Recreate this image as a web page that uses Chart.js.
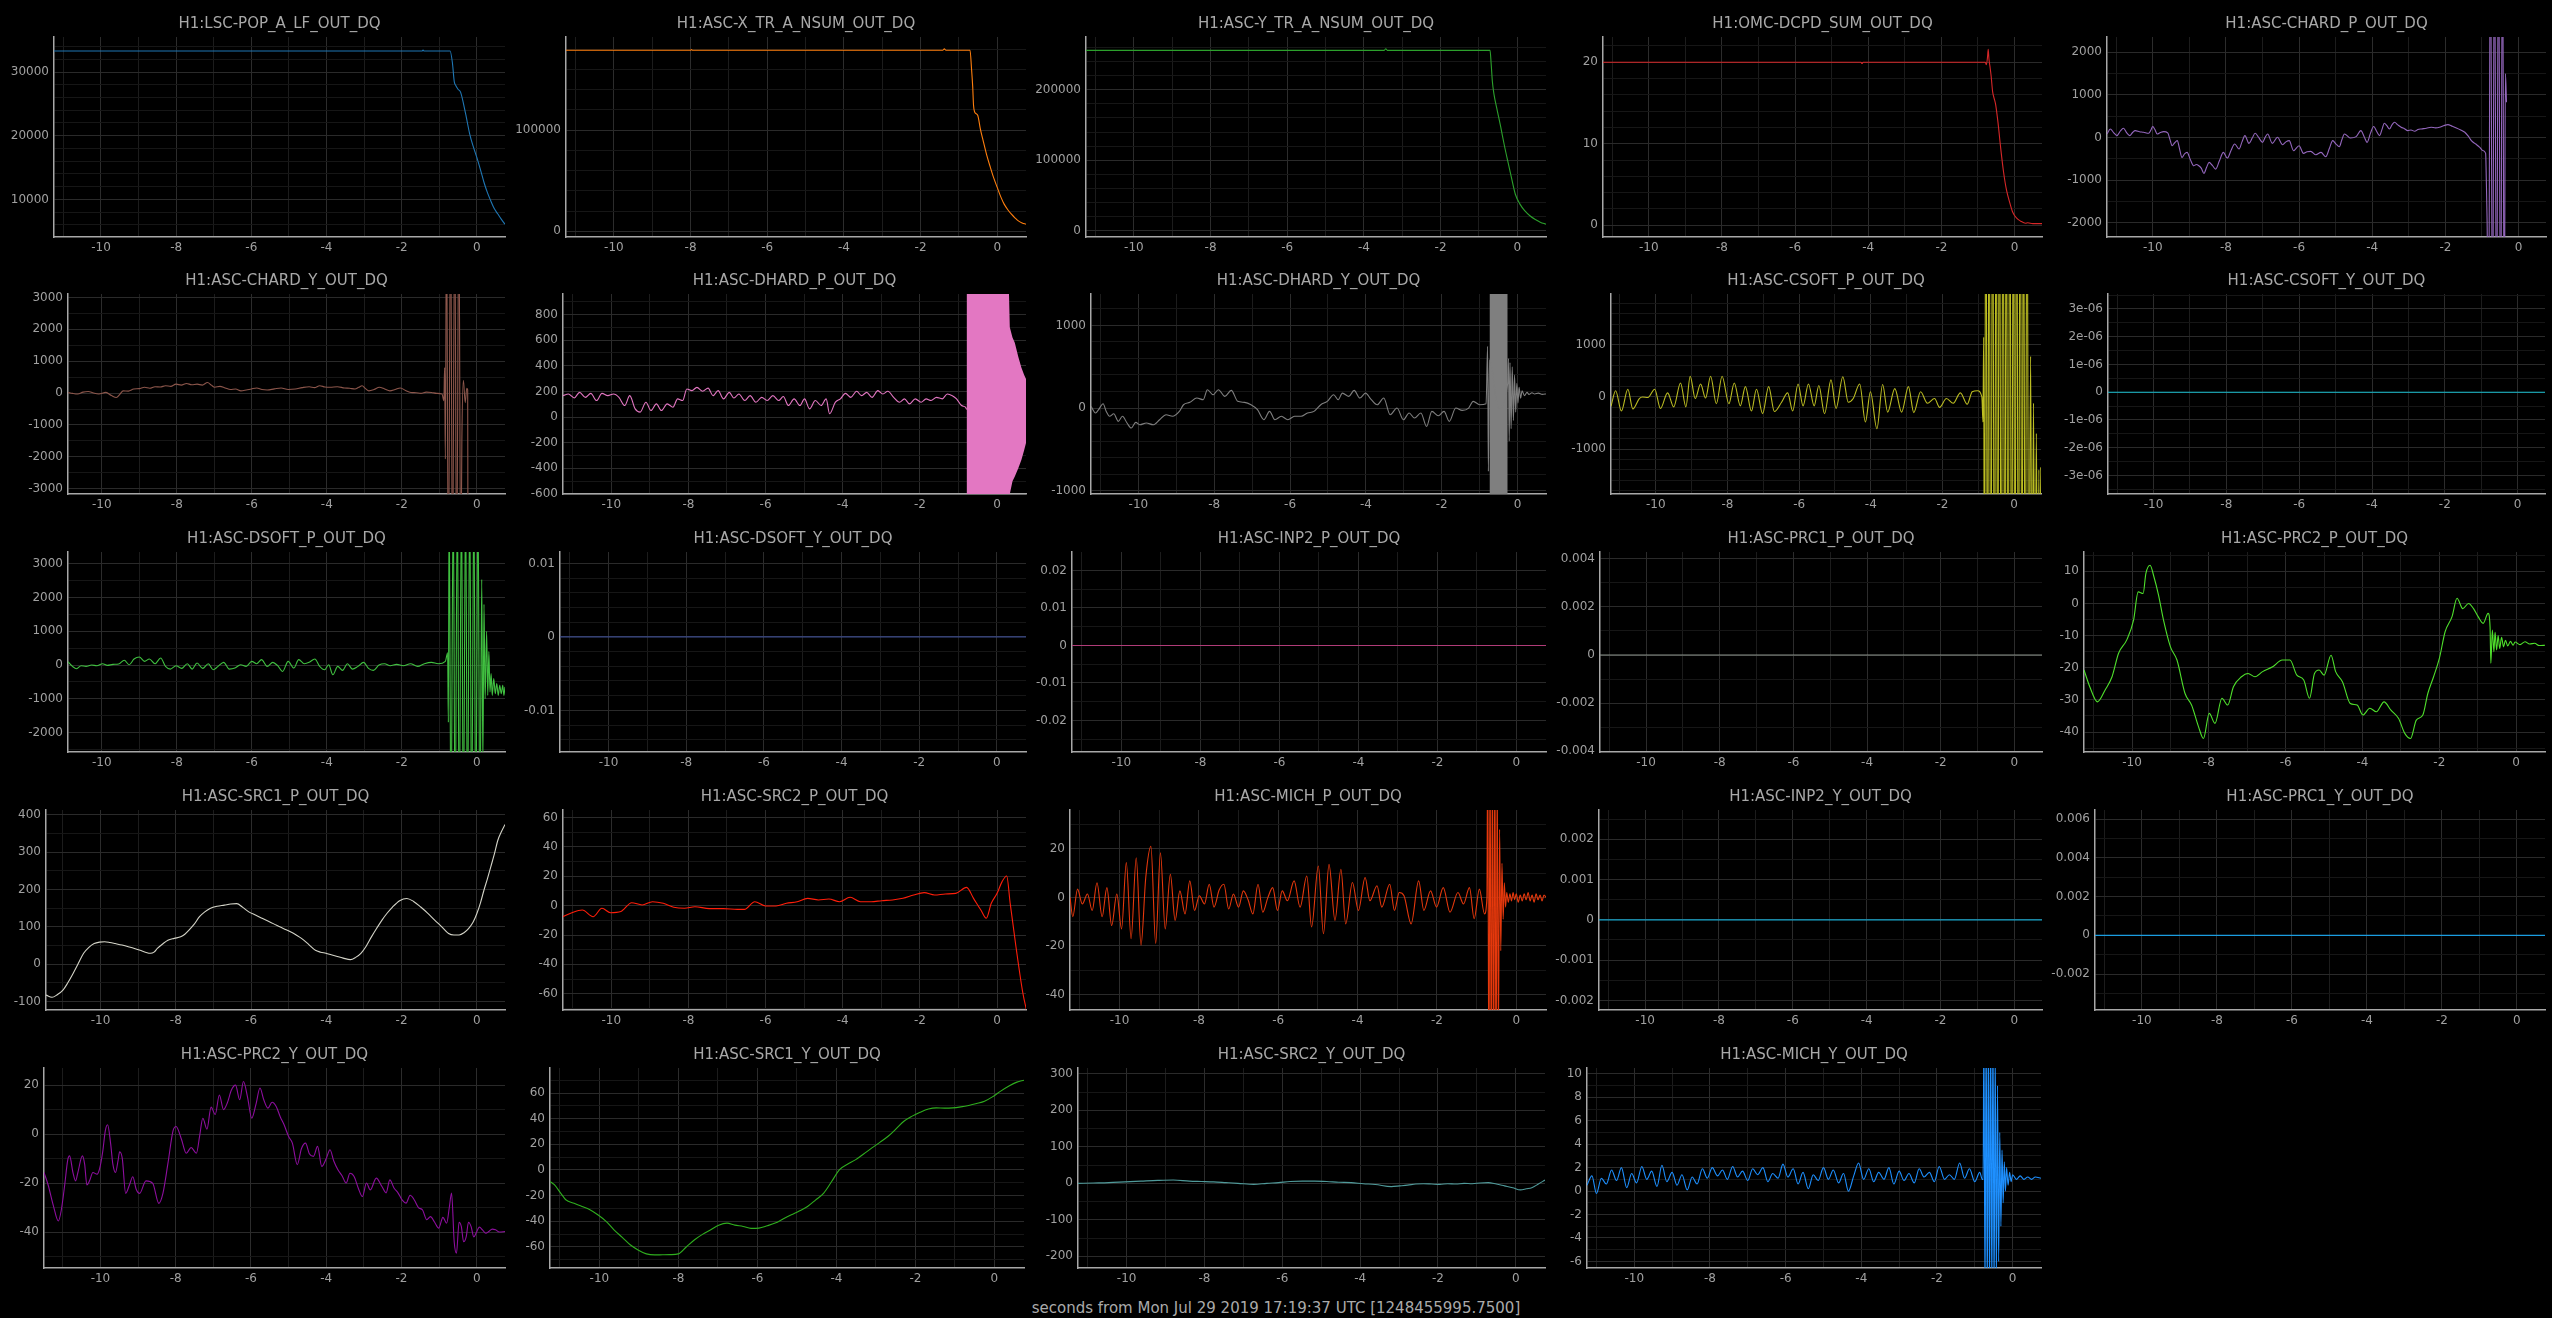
<!DOCTYPE html>
<html>
<head>
<meta charset="utf-8">
<script src="https://cdn.jsdelivr.net/npm/chart.js@4.4.1/dist/chart.umd.min.js"></script>
<style>
  body { margin: 0; background: #000; overflow: hidden; }
  #wrap { position: relative; width: 2552px; height: 1318px; background: #000; }
  #wrap canvas { position: absolute; }
  #xlabel { position: absolute; left: 0; top: 1299px; width: 2552px; text-align: center;
            font: 15px "DejaVu Sans", sans-serif; color: #aaa; }
</style>
</head>
<body>
<div id="wrap">
  <div id="xlabel">seconds from Mon Jul 29 2019 17:19:37 UTC [1248455995.7500]</div>
</div>
<script>
// Data: [seconds, value] pairs
const popA = [[-11.25,33300],[-1.46,33300],[-1.43,33450],[-1.4,33300],[-0.71,33300],[-0.65,31500],[-0.6,28500],[-0.56,27900],[-0.5,27300],[-0.43,26800],[-0.3,23500],[-0.19,20300],[-0.1,18400],[0,16600],[0.1,14600],[0.19,12700],[0.28,11100],[0.37,9800],[0.46,8600],[0.56,7700],[0.65,6900],[0.75,6100]];
const xTrSum = [[-11.25,178900],[-8.0,178900],[-7.98,179600],[-7.95,178900],[-1.42,178900],[-1.38,180300],[-1.34,178900],[-0.71,178900],[-0.67,160000],[-0.64,142700],[-0.62,125000],[-0.59,117900],[-0.51,114600],[-0.44,101000],[-0.37,89800],[-0.28,76000],[-0.18,63200],[-0.09,52500],[0,43300],[0.09,34200],[0.18,26800],[0.28,21000],[0.37,16900],[0.46,13300],[0.55,10200],[0.65,8200],[0.75,6900]];
const yTrSum = [[-11.25,255500],[-3.47,255500],[-3.43,257800],[-3.39,255500],[-0.71,255500],[-0.68,236000],[-0.65,212000],[-0.61,194300],[-0.52,170000],[-0.43,146800],[-0.34,122000],[-0.25,99400],[-0.15,75000],[-0.05,52000],[0.07,38000],[0.2,28400],[0.33,21500],[0.46,16600],[0.6,12500],[0.75,9500]];
const dcpdSum = [[-11.25,20],[-4.2,20],[-4.17,19.85],[-4.14,20],[-0.8,20],[-0.77,19.7],[-0.74,20.6],[-0.72,21.6],[-0.7,20.4],[-0.67,19.4],[-0.64,18.3],[-0.6,16.4],[-0.56,15.6],[-0.52,14.9],[-0.45,12.5],[-0.38,9.5],[-0.3,6.5],[-0.22,4.3],[-0.12,2.6],[-0.05,1.6],[0.05,0.9],[0.17,0.5],[0.3,0.25],[0.36,0.3],[0.5,0.2],[0.75,0.2]];
const chardP = [[-11.25,86],[-11.16,204],[-11.07,120],[-10.98,47],[-10.89,150],[-10.8,220],[-10.71,110],[-10.63,47],[-10.55,120],[-10.48,165],[-10.36,140],[-10.25,126],[-10.11,102],[-10.05,180],[-10.0,260],[-9.94,190],[-9.88,86],[-9.79,120],[-9.7,141],[-9.59,110],[-9.53,-40],[-9.47,-189],[-9.4,-120],[-9.33,-71],[-9.27,-250],[-9.2,-463],[-9.13,-380],[-9.06,-346],[-8.97,-520],[-8.88,-660],[-8.81,-630],[-8.74,-660],[-8.67,-720],[-8.6,-840],[-8.53,-700],[-8.46,-581],[-8.37,-650],[-8.28,-738],[-8.18,-550],[-8.07,-346],[-7.96,-479],[-7.86,-300],[-7.76,-149],[-7.64,-267],[-7.56,-100],[-7.48,47],[-7.37,-134],[-7.28,-10],[-7.2,102],[-7.1,0],[-7.0,-110],[-6.93,0],[-6.86,86],[-6.73,-134],[-6.59,8],[-6.45,-165],[-6.36,-100],[-6.27,-71],[-6.15,-306],[-6.0,-189],[-5.88,-369],[-5.78,-330],[-5.68,-322],[-5.54,-401],[-5.4,-346],[-5.27,-448],[-5.17,-250],[-5.08,-71],[-4.99,-150],[-4.9,-212],[-4.83,-50],[-4.76,86],[-4.6,-8],[-4.44,24],[-4.31,165],[-4.22,20],[-4.14,-110],[-4.05,100],[-3.96,260],[-3.88,150],[-3.8,47],[-3.73,200],[-3.67,338],[-3.6,280],[-3.53,204],[-3.46,300],[-3.39,361],[-3.3,300],[-3.21,244],[-3.12,210],[-3.03,165],[-2.94,180],[-2.84,149],[-2.75,190],[-2.66,204],[-2.52,220],[-2.39,244],[-2.27,230],[-2.16,244],[-2.05,280],[-1.93,306],[-1.82,270],[-1.7,228],[-1.58,180],[-1.47,126],[-1.38,40],[-1.29,-71],[-1.17,-150],[-1.06,-228],[-0.98,-300],[-0.9,-369],[-0.88,-1053],[-0.86,-1956],[-0.82,-5000],[-0.77,5000],[-0.71,-5000],[-0.66,5000],[-0.6,-5000],[-0.55,5000],[-0.49,-5000],[-0.44,5000],[-0.39,-5000],[-0.36,1500],[-0.33,830]];
const chardY = [[-10.9,20],[-10.78,-10],[-10.64,-30],[-10.5,30],[-10.36,50],[-10.22,0],[-10.08,-30],[-9.89,20],[-9.74,-80],[-9.61,-140],[-9.52,-40],[-9.43,70],[-9.29,60],[-9.15,125],[-9.0,140],[-8.86,180],[-8.72,150],[-8.58,200],[-8.44,190],[-8.3,230],[-8.16,210],[-8.02,280],[-7.88,250],[-7.74,300],[-7.6,260],[-7.46,280],[-7.32,250],[-7.18,330],[-7.08,250],[-6.99,180],[-6.85,210],[-6.71,160],[-6.57,110],[-6.43,125],[-6.29,70],[-6.15,95],[-6.01,130],[-5.87,160],[-5.73,110],[-5.59,95],[-5.4,130],[-5.22,160],[-5.03,110],[-4.84,125],[-4.66,170],[-4.47,200],[-4.33,170],[-4.19,230],[-4.05,190],[-3.91,180],[-3.72,200],[-3.53,160],[-3.39,150],[-3.25,125],[-3.15,180],[-3.06,230],[-2.97,140],[-2.88,70],[-2.74,110],[-2.6,180],[-2.46,130],[-2.32,70],[-2.18,110],[-2.04,160],[-1.9,80],[-1.76,20],[-1.62,10],[-1.49,-10],[-1.35,30],[-1.21,20],[-1.07,-10],[-0.93,-30],[-0.88,-240],[-0.86,800],[-0.84,-2070],[-0.81,6000],[-0.76,-6000],[-0.7,6000],[-0.65,-6000],[-0.59,6000],[-0.54,-6000],[-0.48,6000],[-0.43,-6000],[-0.4,-1500],[-0.36,400],[-0.31,-300],[-0.27,150],[-0.245,100],[-0.24,-3400]];
const dhardP = [[-11.25,167],[-11.11,180],[-10.96,149],[-10.82,193],[-10.67,154],[-10.53,185],[-10.38,129],[-10.24,185],[-10.09,167],[-9.94,180],[-9.8,154],[-9.65,90],[-9.52,167],[-9.38,64],[-9.25,39],[-9.1,116],[-8.97,51],[-8.83,103],[-8.7,51],[-8.55,103],[-8.4,77],[-8.28,142],[-8.15,129],[-8.04,219],[-7.91,206],[-7.78,232],[-7.63,201],[-7.49,226],[-7.36,167],[-7.23,206],[-7.09,142],[-6.94,193],[-6.82,149],[-6.69,180],[-6.54,129],[-6.4,167],[-6.25,116],[-6.1,154],[-5.96,129],[-5.81,167],[-5.66,129],[-5.54,160],[-5.41,90],[-5.26,142],[-5.11,90],[-4.99,142],[-4.86,64],[-4.71,129],[-4.56,90],[-4.43,142],[-4.34,26],[-4.19,116],[-4.06,142],[-3.93,185],[-3.79,154],[-3.64,201],[-3.51,167],[-3.38,193],[-3.24,154],[-3.09,206],[-2.96,180],[-2.83,201],[-2.68,154],[-2.53,116],[-2.4,142],[-2.27,103],[-2.12,142],[-1.97,116],[-1.84,142],[-1.71,129],[-1.57,154],[-1.42,142],[-1.29,180],[-1.16,167],[-1.05,142],[-0.92,90],[-0.82,77],[-0.79,60]];
const dhardPHi = [[-0.79,1200],[0.29,1200],[0.33,700],[0.4,620],[0.46,579],[0.55,470],[0.63,386],[0.7,330],[0.77,283]];
const dhardPLo = [[-0.79,-800],[0.29,-800],[0.33,-600],[0.4,-500],[0.46,-463],[0.55,-400],[0.63,-334],[0.7,-260],[0.77,-180]];
const dhardY = [[-11.25,20],[-11.13,-60],[-11.05,-20],[-10.93,52],[-10.85,-40],[-10.76,-100],[-10.65,-69],[-10.53,-161],[-10.42,-100],[-10.3,-181],[-10.19,-242],[-10.07,-173],[-9.96,-202],[-9.79,-181],[-9.61,-202],[-9.44,-141],[-9.27,-81],[-9.1,-100],[-8.92,-40],[-8.81,40],[-8.64,69],[-8.46,121],[-8.29,101],[-8.18,222],[-8.03,161],[-7.89,222],[-7.72,141],[-7.55,214],[-7.38,81],[-7.2,69],[-7.03,40],[-6.86,-20],[-6.69,-141],[-6.54,-40],[-6.4,-141],[-6.23,-100],[-6.06,-141],[-5.88,-100],[-5.71,-100],[-5.54,-60],[-5.37,-40],[-5.19,40],[-5.02,81],[-4.85,161],[-4.73,101],[-4.62,181],[-4.45,141],[-4.31,214],[-4.16,121],[-4.01,181],[-3.87,109],[-3.7,40],[-3.53,121],[-3.36,-81],[-3.18,0],[-3.01,-141],[-2.86,-60],[-2.72,-121],[-2.55,-60],[-2.4,-222],[-2.26,-40],[-2.09,-93],[-1.94,-40],[-1.8,-161],[-1.63,0],[-1.46,-28],[-1.29,0],[-1.17,81],[-1.0,40],[-0.83,52],[-0.79,746],[-0.77,-766],[-0.74,585],[-0.5,0],[-0.26,300],[-0.24,600],[-0.22,-400],[-0.2,550],[-0.17,-250],[-0.14,500],[-0.11,-150],[-0.08,400],[-0.05,-50],[-0.02,300],[0.01,60],[0.04,250],[0.08,120],[0.12,210],[0.18,150],[0.25,190],[0.3,165],[0.38,185],[0.45,170],[0.55,180],[0.65,165],[0.77,172]];
const dhardYHi = [[-0.74,1600],[-0.26,1600]];
const dhardYLo = [[-0.74,-1200],[-0.26,-1200]];
const csoftP = [[-11.25,-180],[-11.12,120],[-10.96,-270],[-10.78,150],[-10.64,-230],[-10.46,-30],[-10.37,0],[-10.22,-10],[-10.03,150],[-9.87,-220],[-9.67,80],[-9.5,-190],[-9.31,270],[-9.16,-190],[-9.04,400],[-8.9,-30],[-8.75,250],[-8.61,-20],[-8.47,400],[-8.31,-130],[-8.15,400],[-7.96,-130],[-7.81,270],[-7.64,-170],[-7.5,200],[-7.33,-270],[-7.19,150],[-7.02,-320],[-6.85,200],[-6.69,-280],[-6.49,-100],[-6.32,80],[-6.18,-270],[-6.03,250],[-5.89,-170],[-5.74,250],[-5.58,-170],[-5.45,220],[-5.29,-320],[-5.11,330],[-4.97,-220],[-4.78,390],[-4.63,-100],[-4.49,-30],[-4.31,250],[-4.15,-480],[-4.01,100],[-3.83,-610],[-3.67,240],[-3.53,-290],[-3.33,160],[-3.14,-290],[-2.95,200],[-2.8,-300],[-2.61,100],[-2.42,-120],[-2.22,-30],[-2.08,-200],[-1.89,-30],[-1.7,-120],[-1.5,80],[-1.31,-140],[-1.17,100],[-1.02,120],[-0.9,0],[-0.87,-480],[-0.85,1150],[-0.83,-5000],[-0.79,5000],[-0.74,-5000],[-0.7,5000],[-0.65,-5000],[-0.6,5000],[-0.55,-5000],[-0.5,5000],[-0.46,-5000],[-0.41,5000],[-0.36,-5000],[-0.31,5000],[-0.26,-5000],[-0.22,5000],[-0.17,-5000],[-0.12,5000],[-0.07,-5000],[-0.02,5000],[0.02,-5000],[0.07,5000],[0.12,-5000],[0.17,5000],[0.22,-5000],[0.26,5000],[0.31,-5000],[0.36,5000],[0.41,-5000],[0.46,780],[0.5,-5000],[0.54,-120],[0.58,-5000],[0.62,-700],[0.66,-5000],[0.69,-1400],[0.72,-5000],[0.74,-1350],[0.76,-1700]];
const csoftY = [[-11.25,0],[0.75,0]];
const dsoftP = [[-10.9,100],[-10.78,-40],[-10.67,-110],[-10.55,-20],[-10.42,-40],[-10.27,0],[-10.13,-20],[-9.98,40],[-9.85,-10],[-9.7,20],[-9.55,30],[-9.4,140],[-9.27,10],[-9.14,180],[-9.0,240],[-8.86,110],[-8.73,180],[-8.58,40],[-8.43,210],[-8.3,-40],[-8.17,-120],[-8.02,-20],[-7.87,-100],[-7.72,40],[-7.59,-120],[-7.46,60],[-7.31,-100],[-7.16,40],[-7.03,-140],[-6.9,-40],[-6.75,80],[-6.6,-120],[-6.45,-90],[-6.3,10],[-6.15,-40],[-6.0,110],[-5.87,40],[-5.74,160],[-5.59,-40],[-5.44,80],[-5.31,-20],[-5.18,-190],[-5.03,110],[-4.88,-90],[-4.75,160],[-4.6,40],[-4.47,80],[-4.32,180],[-4.19,-40],[-4.06,-140],[-3.95,10],[-3.84,-290],[-3.71,-40],[-3.58,-160],[-3.45,40],[-3.32,-120],[-3.17,-40],[-3.02,80],[-2.89,-100],[-2.76,-160],[-2.61,0],[-2.46,40],[-2.31,-20],[-2.14,20],[-1.96,-20],[-1.77,40],[-1.58,-40],[-1.4,40],[-1.21,80],[-1.03,40],[-0.84,110],[-0.78,360],[-0.76,-1700],[-0.74,5000],[-0.69,-5000],[-0.63,5000],[-0.58,-5000],[-0.52,5000],[-0.47,-5000],[-0.41,5000],[-0.36,-5000],[-0.3,5000],[-0.25,-5000],[-0.19,5000],[-0.14,-5000],[-0.08,5000],[-0.03,-5000],[0.03,5000],[0.08,-5000],[0.13,2540],[0.16,-2900],[0.19,1800],[0.22,-1000],[0.26,1000],[0.29,-900],[0.32,400],[0.35,-800],[0.38,-250],[0.41,-900],[0.45,-400],[0.49,-850],[0.53,-550],[0.57,-900],[0.61,-600],[0.65,-850],[0.69,-600],[0.72,-900],[0.75,-650]];
const dsoftY = [[-11.25,0],[0.75,0]];
const inp2P = [[-11.25,0],[0.75,0]];
const prc1P = [[-11.25,0],[0.75,0]];
const prc2P = [[-11.25,-20.7],[-11.1,-25.9],[-10.9,-30.6],[-10.7,-26.9],[-10.52,-22.8],[-10.35,-15.5],[-10.14,-11.4],[-9.96,-5.2],[-9.84,3.6],[-9.71,3.1],[-9.64,9.3],[-9.53,11.9],[-9.43,8.3],[-9.31,2.6],[-9.18,-5.2],[-9.0,-13.5],[-8.83,-17.6],[-8.62,-28.0],[-8.45,-31.6],[-8.27,-38.3],[-8.14,-42.0],[-7.99,-34.2],[-7.84,-37.3],[-7.66,-29.5],[-7.51,-31.6],[-7.36,-25.9],[-7.15,-22.8],[-6.98,-21.8],[-6.8,-22.8],[-6.6,-21.2],[-6.34,-19.7],[-6.09,-17.6],[-5.89,-17.6],[-5.71,-22.3],[-5.53,-23.8],[-5.38,-29.5],[-5.25,-21.8],[-5.13,-20.7],[-5.0,-22.3],[-4.82,-16.1],[-4.7,-21.2],[-4.52,-24.4],[-4.32,-31.1],[-4.14,-31.6],[-3.99,-34.7],[-3.81,-32.6],[-3.64,-33.7],[-3.44,-30.6],[-3.26,-33.2],[-3.06,-35.8],[-2.9,-40.4],[-2.75,-42.0],[-2.6,-36.3],[-2.43,-34.7],[-2.3,-28.0],[-2.15,-22.8],[-2.0,-17.1],[-1.85,-8.8],[-1.67,-4.1],[-1.54,1.6],[-1.39,-1.6],[-1.24,0],[-1.11,-1.6],[-0.99,-4.1],[-0.86,-6.2],[-0.73,-3.1],[-0.68,-7.3],[-0.66,-18.6],[-0.62,-8.3],[-0.58,-15],[-0.55,-9],[-0.51,-14.5],[-0.47,-10],[-0.43,-14],[-0.38,-10.5],[-0.33,-13.5],[-0.28,-11.5],[-0.22,-13.2],[-0.15,-11.8],[-0.08,-13],[-0.03,-12],[0.1,-12.8],[0.23,-11.9],[0.35,-12.6],[0.48,-12.4],[0.6,-13.1],[0.76,-13.0]];
const src1P = [[-11.45,-83],[-11.29,-89],[-11.15,-82],[-11.0,-70],[-10.87,-50],[-10.73,-25],[-10.59,2],[-10.45,29],[-10.31,45],[-10.17,55],[-10.03,59],[-9.89,60],[-9.75,58],[-9.61,55],[-9.43,51],[-9.24,46],[-9.1,42],[-8.95,37],[-8.81,32],[-8.67,29],[-8.58,32],[-8.49,42],[-8.35,54],[-8.21,64],[-8.04,69],[-7.87,73],[-7.76,80],[-7.65,91],[-7.51,107],[-7.37,127],[-7.23,140],[-7.09,149],[-6.9,155],[-6.71,158],[-6.54,161],[-6.38,162],[-6.22,152],[-6.06,140],[-5.87,131],[-5.69,122],[-5.5,113],[-5.32,104],[-5.13,95],[-4.94,86],[-4.8,78],[-4.66,69],[-4.47,53],[-4.29,37],[-4.15,32],[-4.01,29],[-3.87,25],[-3.73,21],[-3.55,16],[-3.36,12],[-3.22,18],[-3.08,29],[-2.94,48],[-2.8,73],[-2.66,96],[-2.52,118],[-2.38,137],[-2.24,153],[-2.05,170],[-1.86,176],[-1.68,168],[-1.49,153],[-1.3,136],[-1.12,118],[-0.93,100],[-0.75,82],[-0.61,78],[-0.47,78],[-0.34,84],[-0.22,95],[-0.1,112],[0,135],[0.1,165],[0.19,198],[0.28,228],[0.37,260],[0.47,296],[0.56,332],[0.66,356],[0.75,374]];
const src2P = [[-11.25,-7.5],[-11.02,-4.8],[-10.75,-3],[-10.47,-7.5],[-10.24,-1.8],[-10.02,-4.8],[-9.75,-4],[-9.47,2],[-9.2,0.5],[-8.93,2.7],[-8.65,1.6],[-8.38,-1.1],[-8.1,-1.8],[-7.83,-0.7],[-7.46,-2],[-7.1,-2],[-6.73,-2.5],[-6.55,-2.5],[-6.28,2.7],[-6.0,-0.2],[-5.73,-0.2],[-5.46,1.6],[-5.18,2.7],[-4.91,5],[-4.63,3.9],[-4.36,4.5],[-4.08,2.7],[-3.81,5.7],[-3.54,2.7],[-3.26,2.7],[-2.99,3.4],[-2.71,3.9],[-2.44,5],[-2.16,7.3],[-1.89,8.9],[-1.62,7.3],[-1.34,8],[-1.07,8.4],[-0.79,12.5],[-0.61,5],[-0.42,-3],[-0.28,-8.6],[-0.15,1.6],[0,8.4],[0.13,16.4],[0.25,20.2],[0.34,1.6],[0.49,-28],[0.67,-59.8],[0.77,-72]];
const michP = [[-11.25,0],[-11.18,-8],[-11.06,3.4],[-10.94,-2.7],[-10.81,1.4],[-10.69,-5.4],[-10.57,6],[-10.44,-8],[-10.32,4],[-10.2,-11.6],[-10.07,1.4],[-9.95,-13],[-9.83,14.3],[-9.71,-17],[-9.58,16.3],[-9.46,-19.7],[-9.34,8.2],[-9.21,21],[-9.09,-19],[-8.97,18.4],[-8.85,-13],[-8.72,9.5],[-8.6,-9.5],[-8.48,2.7],[-8.35,-6.8],[-8.23,6.8],[-8.11,-5.4],[-7.99,0.7],[-7.86,-2.7],[-7.74,5.4],[-7.62,-4],[-7.49,3],[-7.37,5.4],[-7.25,-4.8],[-7.13,1.4],[-7.0,-4],[-6.88,2.7],[-6.76,-1],[-6.64,-6.8],[-6.51,5.4],[-6.39,-6.1],[-6.26,0],[-6.14,4],[-6.02,-5.4],[-5.9,2.7],[-5.77,-1.4],[-5.6,6.8],[-5.45,-4],[-5.28,8.8],[-5.16,-12.2],[-4.99,12.9],[-4.86,-15],[-4.72,13.6],[-4.57,-9.5],[-4.42,11.6],[-4.3,-10.9],[-4.13,6.1],[-3.98,-5.4],[-3.81,8.2],[-3.69,-1.4],[-3.51,4.8],[-3.39,-4],[-3.19,5.4],[-3.07,-5.4],[-2.95,2],[-2.83,0.7],[-2.65,-10.9],[-2.46,6.8],[-2.33,-5.4],[-2.16,2.7],[-2.01,-4],[-1.84,4],[-1.67,-6.1],[-1.47,2],[-1.33,-2.7],[-1.18,4],[-1.06,-8.8],[-0.93,3.4],[-0.8,-6.8],[-0.74,0],[-0.72,60],[-0.69,-80],[-0.66,60],[-0.63,-80],[-0.6,60],[-0.57,-80],[-0.54,60],[-0.51,-80],[-0.48,50],[-0.45,-60],[-0.42,28],[-0.39,-22],[-0.36,14],[-0.33,-9],[-0.3,6],[-0.27,-4],[-0.24,2],[-0.2,-2],[-0.16,1.5],[-0.12,-1.5],[-0.08,2],[-0.04,-1],[0,1.5],[0.05,-2],[0.1,1],[0.15,-1.5],[0.2,1.5],[0.25,-1],[0.3,2],[0.35,-1.5],[0.4,1],[0.45,-2],[0.5,1.5],[0.55,-1],[0.6,1],[0.65,-1.5],[0.7,1],[0.75,0]];
const inp2Y = [[-11.25,0],[0.75,0]];
const prc1Y = [[-11.25,0],[0.75,0]];
const prc2Y = [[-11.5,-15.7],[-11.39,-20.8],[-11.25,-29.3],[-11.12,-35.5],[-11.04,-31],[-10.95,-20.8],[-10.87,-10.6],[-10.82,-8.9],[-10.73,-15.7],[-10.66,-19.1],[-10.6,-15.7],[-10.48,-8.9],[-10.42,-12.3],[-10.36,-20.8],[-10.29,-19.1],[-10.2,-15.7],[-10.09,-16.4],[-10.02,-14],[-9.94,-7.2],[-9.87,1.4],[-9.81,3.8],[-9.73,-3.8],[-9.67,-12.3],[-9.6,-15.7],[-9.53,-10.6],[-9.49,-7.2],[-9.42,-9.9],[-9.33,-24.2],[-9.23,-20.8],[-9.14,-17.4],[-9.05,-22.5],[-8.96,-24.2],[-8.79,-19.1],[-8.61,-20.1],[-8.45,-28.3],[-8.34,-24.2],[-8.21,-12.3],[-8.07,1.4],[-7.99,3.1],[-7.85,-2],[-7.72,-7.8],[-7.59,-5.5],[-7.45,-7.8],[-7.36,-0.3],[-7.28,6.5],[-7.17,2],[-7.06,11],[-6.95,8],[-6.84,16],[-6.73,10],[-6.63,12.7],[-6.52,18],[-6.41,20],[-6.3,14],[-6.2,21.5],[-6.09,15],[-5.98,6.5],[-5.87,12],[-5.76,18.8],[-5.66,14],[-5.55,10.6],[-5.44,13],[-5.33,11.3],[-5.22,7],[-5.12,3.8],[-5.0,-1],[-4.9,-3.7],[-4.77,-12.5],[-4.66,-6],[-4.55,-3.7],[-4.45,-8],[-4.34,-9.1],[-4.23,-5],[-4.12,-13.2],[-4.0,-10],[-3.9,-6.4],[-3.8,-11],[-3.69,-14.6],[-3.58,-17],[-3.47,-20],[-3.37,-16],[-3.26,-17.3],[-3.15,-22],[-3.04,-25.5],[-2.93,-20],[-2.83,-22.8],[-2.67,-18],[-2.52,-21.4],[-2.41,-24],[-2.31,-18.7],[-2.2,-22],[-2.09,-24.1],[-1.98,-27],[-1.88,-28.2],[-1.77,-25],[-1.66,-26.9],[-1.55,-30],[-1.44,-31],[-1.33,-35],[-1.23,-33.7],[-1.12,-36],[-1.01,-38.4],[-0.9,-34],[-0.8,-36.4],[-0.73,-30],[-0.67,-24.1],[-0.6,-44],[-0.54,-48.7],[-0.47,-36],[-0.41,-37.8],[-0.35,-44],[-0.28,-41.9],[-0.22,-36],[-0.15,-37.8],[-0.08,-42],[-0.02,-40.5],[0.07,-38],[0.15,-39.1],[0.24,-40.5],[0.32,-39.8],[0.41,-38.8],[0.5,-39.1],[0.6,-40],[0.75,-39.8]];
const src1Y = [[-11.25,-9],[-11.14,-11.5],[-10.98,-18],[-10.85,-23.2],[-10.64,-26],[-10.44,-28.4],[-10.24,-31],[-10.04,-34.9],[-9.83,-40],[-9.63,-46.6],[-9.42,-52.5],[-9.22,-58.3],[-9.01,-62.5],[-8.81,-65.4],[-8.6,-66.2],[-8.4,-66.1],[-8.2,-66],[-8.0,-65.4],[-7.8,-60],[-7.59,-54.4],[-7.38,-50],[-7.18,-46.6],[-6.98,-43],[-6.77,-41.4],[-6.57,-43],[-6.36,-44],[-6.16,-45.5],[-5.96,-45.3],[-5.75,-43.5],[-5.55,-41.4],[-5.34,-38],[-5.14,-34.9],[-4.94,-32],[-4.73,-28.4],[-4.53,-23.5],[-4.32,-18],[-4.12,-9],[-3.92,0.3],[-3.72,4.5],[-3.51,8.1],[-3.31,12.5],[-3.1,17.2],[-2.9,21.5],[-2.69,26.3],[-2.49,32],[-2.29,38],[-2.08,42],[-1.88,45],[-1.67,47.5],[-1.47,48.4],[-1.26,48.2],[-1.06,48.4],[-0.85,49.2],[-0.65,50.3],[-0.45,51.8],[-0.25,53.6],[-0.05,57],[0.16,61.5],[0.37,65.5],[0.57,68.5],[0.75,70]];
const src2Y = [[-11.25,0],[-10.85,1],[-10.46,2],[-10.05,4],[-9.63,6],[-9.2,8],[-8.8,9],[-8.39,6],[-8.08,5],[-7.77,4],[-7.45,2],[-7.14,0],[-6.73,-3],[-6.4,0],[-6.1,2],[-5.8,5],[-5.48,6],[-5.17,6],[-4.86,5],[-4.55,3],[-4.23,2],[-3.92,-1],[-3.61,-3],[-3.2,-9],[-2.98,-7],[-2.78,-5],[-2.57,-2],[-2.37,-1],[-2.16,-2],[-1.95,-3],[-1.75,-1],[-1.54,-2],[-1.33,0],[-1.12,-1],[-0.92,1],[-0.71,2],[-0.5,-2],[-0.29,-7],[-0.08,-12],[0.12,-18],[0.27,-15],[0.41,-12],[0.58,-2],[0.75,9]];
const michY = [[-11.25,0.5],[-11.12,1.3],[-11.0,-0.2],[-10.87,1.1],[-10.74,0.6],[-10.6,1.8],[-10.47,0.9],[-10.34,2.0],[-10.2,0.3],[-10.07,1.5],[-9.94,0.7],[-9.8,2.1],[-9.67,1.0],[-9.54,1.7],[-9.4,0.4],[-9.27,2.2],[-9.14,0.8],[-9.0,1.6],[-8.87,0.5],[-8.74,1.4],[-8.6,0.1],[-8.47,1.2],[-8.34,0.6],[-8.2,1.9],[-8.07,1.1],[-7.94,2.0],[-7.8,1.3],[-7.67,1.8],[-7.54,1.0],[-7.4,2.1],[-7.27,1.2],[-7.14,1.7],[-7.0,0.9],[-6.87,1.9],[-6.74,1.4],[-6.6,2.0],[-6.47,0.8],[-6.34,1.5],[-6.2,1.1],[-6.07,2.3],[-5.94,1.2],[-5.8,1.9],[-5.67,0.6],[-5.54,1.6],[-5.4,0.2],[-5.27,1.4],[-5.14,0.9],[-5.0,2.0],[-4.87,1.0],[-4.74,1.8],[-4.6,0.7],[-4.47,1.5],[-4.34,0.0],[-4.2,1.3],[-4.07,2.4],[-3.94,1.0],[-3.8,1.9],[-3.67,0.8],[-3.54,1.6],[-3.4,1.0],[-3.27,2.0],[-3.14,0.6],[-3.0,1.7],[-2.87,0.9],[-2.74,1.5],[-2.6,0.7],[-2.47,1.9],[-2.34,1.2],[-2.2,1.6],[-2.07,0.8],[-1.94,2.1],[-1.8,1.0],[-1.67,1.4],[-1.54,1.0],[-1.4,2.4],[-1.27,1.1],[-1.14,1.9],[-1.0,0.8],[-0.87,1.6],[-0.8,1.0],[-0.78,1],[-0.76,14],[-0.73,-9],[-0.7,14],[-0.67,-9],[-0.64,14],[-0.61,-9],[-0.58,14],[-0.55,-9],[-0.52,14],[-0.49,-9],[-0.46,12],[-0.43,-8],[-0.4,9],[-0.37,-6],[-0.34,5],[-0.31,-3],[-0.28,3.5],[-0.25,-1],[-0.22,2.5],[-0.19,0],[-0.16,2],[-0.12,0.5],[-0.08,1.6],[-0.04,0.8],[0,1.4],[0.1,1.0],[0.2,1.3],[0.3,1.0],[0.4,1.2],[0.5,1.0],[0.6,1.2],[0.75,1.1]];

// x tick values (labels on even seconds)
const xTickVals = [-11, -10, -9, -8, -7, -6, -5, -4, -3, -2, -1, 0];

// Layout
const ROW_TOP = [37, 294, 552, 810, 1068];
const PLOT_H = 200, TITLE_H = 32, XAXIS_H = 22, PAD_R = 4;

const panels = [
  {title:'H1:LSC-POP_A_LF_OUT_DQ', data:popA, color:'#1f77b4', row:0, L:54, R:505, xmin:-11.25, ymin:4100, ymax:35500, step:10000, minor:2000},
  {title:'H1:ASC-X_TR_A_NSUM_OUT_DQ', data:xTrSum, color:'#ff7f0e', row:0, L:566, R:1026, xmin:-11.25, ymin:-5700, ymax:192000, step:100000, minor:20000},
  {title:'H1:ASC-Y_TR_A_NSUM_OUT_DQ', data:yTrSum, color:'#2ca02c', row:0, L:1086, R:1546, xmin:-11.25, ymin:-8500, ymax:274400, step:100000, minor:20000},
  {title:'H1:OMC-DCPD_SUM_OUT_DQ', data:dcpdSum, color:'#d62728', row:0, L:1603, R:2042, xmin:-11.25, ymin:-1.44, ymax:23.1, step:10, minor:2},
  {title:'H1:ASC-CHARD_P_OUT_DQ', data:chardP, color:'#9467bd', row:0, L:2107, R:2546, xmin:-11.25, ymin:-2330, ymax:2360, step:1000, minor:500},
  {title:'H1:ASC-CHARD_Y_OUT_DQ', data:chardY, color:'#8c564b', row:1, L:68, R:505, xmin:-10.9, ymin:-3166, ymax:3107, step:1000, minor:500},
  {title:'H1:ASC-DHARD_P_OUT_DQ', data:dhardP, hi:dhardPHi, lo:dhardPLo, color:'#e377c2', row:1, L:563, R:1026, xmin:-11.25, ymin:-600, ymax:960, step:200, minor:100},
  {title:'H1:ASC-DHARD_Y_OUT_DQ', data:dhardY, hi:dhardYHi, lo:dhardYLo, color:'#7f7f7f', row:1, L:1091, R:1546, xmin:-11.25, ymin:-1040, ymax:1380, step:1000, minor:200},
  {title:'H1:ASC-CSOFT_P_OUT_DQ', data:csoftP, color:'#bcbd22', row:1, L:1611, R:2041, xmin:-11.25, ymin:-1865, ymax:1980, step:1000, minor:200},
  {title:'H1:ASC-CSOFT_Y_OUT_DQ', data:csoftY, color:'#17becf', row:1, L:2108, R:2545, xmin:-11.25, ymin:-3.67e-6, ymax:3.54e-6, step:1e-6, minor:5e-7, sci:true},
  {title:'H1:ASC-DSOFT_P_OUT_DQ', data:dsoftP, color:'#40c040', row:2, L:68, R:505, xmin:-10.9, ymin:-2582, ymax:3356, step:1000, minor:500},
  {title:'H1:ASC-DSOFT_Y_OUT_DQ', data:dsoftY, color:'#3b4a8a', row:2, L:560, R:1026, xmin:-11.25, ymin:-0.01566, ymax:0.01155, step:0.01, minor:0.002},
  {title:'H1:ASC-INP2_P_OUT_DQ', data:inp2P, color:'#b03c78', row:2, L:1072, R:1546, xmin:-11.25, ymin:-0.0284, ymax:0.0249, step:0.01, minor:0.005},
  {title:'H1:ASC-PRC1_P_OUT_DQ', data:prc1P, color:'#8a918a', row:2, L:1600, R:2042, xmin:-11.25, ymin:-0.00403, ymax:0.00428, step:0.002, minor:0.001},
  {title:'H1:ASC-PRC2_P_OUT_DQ', data:prc2P, color:'#4fe02c', row:2, L:2084, R:2545, xmin:-11.25, ymin:-46.2, ymax:16, step:10, minor:5},
  {title:'H1:ASC-SRC1_P_OUT_DQ', data:src1P, color:'#d4d4c8', row:3, L:46, R:505, xmin:-11.45, ymin:-123, ymax:413, step:100, minor:50},
  {title:'H1:ASC-SRC2_P_OUT_DQ', data:src2P, color:'#ff1e0a', row:3, L:563, R:1026, xmin:-11.25, ymin:-71.1, ymax:65.2, step:20, minor:10},
  {title:'H1:ASC-MICH_P_OUT_DQ', data:michP, color:'#e6380c', row:3, L:1070, R:1546, xmin:-11.25, ymin:-46.4, ymax:36, step:20, minor:10},
  {title:'H1:ASC-INP2_Y_OUT_DQ', data:inp2Y, color:'#17a6cc', row:3, L:1599, R:2042, xmin:-11.25, ymin:-0.002238, ymax:0.002726, step:0.001, minor:0.0005},
  {title:'H1:ASC-PRC1_Y_OUT_DQ', data:prc1Y, color:'#1b9de0', row:3, L:2095, R:2545, xmin:-11.25, ymin:-0.00386, ymax:0.00648, step:0.002, minor:0.001},
  {title:'H1:ASC-PRC2_Y_OUT_DQ', data:prc2Y, color:'#8e0f9f', row:4, L:44, R:505, xmin:-11.5, ymin:-54.7, ymax:27, step:20, minor:10},
  {title:'H1:ASC-SRC1_Y_OUT_DQ', data:src1Y, color:'#2fae1e', row:4, L:550, R:1024, xmin:-11.25, ymin:-76.4, ymax:79.5, step:20, minor:10},
  {title:'H1:ASC-SRC2_Y_OUT_DQ', data:src2Y, color:'#4f9a9a', row:4, L:1078, R:1545, xmin:-11.25, ymin:-232, ymax:316, step:100, minor:50},
  {title:'H1:ASC-MICH_Y_OUT_DQ', data:michY, color:'#1e90ff', row:4, L:1587, R:2041, xmin:-11.25, ymin:-6.56, ymax:10.5, step:2, minor:1},
];

const FONT = 'DejaVu Sans';
const TEXT = '#a0a0a0';

// draws the panel title centred over the plot area
const panelTitle = {
  id: 'panelTitle',
  afterDraw(chart, args, opts) {
    const { ctx, chartArea } = chart;
    ctx.save();
    ctx.font = '15px "' + FONT + '"';
    ctx.fillStyle = '#a8a8a8';
    ctx.textAlign = 'center';
    ctx.textBaseline = 'middle';
    ctx.fillText(opts.text, (chartArea.left + chartArea.right) / 2, chartArea.top - 13);
    ctx.restore();
  }
};

const toXY = arr => arr.map(([x, y]) => ({ x, y }));

function yTickList(p) {
  const out = [];
  const k0 = Math.ceil(p.ymin / p.minor - 1e-9), k1 = Math.floor(p.ymax / p.minor + 1e-9);
  for (let k = k0; k <= k1; k++) out.push(parseFloat((k * p.minor).toPrecision(12)));
  return out;
}
const isMajor = (p, v) => Math.abs(v / p.step - Math.round(v / p.step)) < 1e-6;
function yLabel(p, v) {
  const m = Math.round(v / p.step);
  if (m === 0) return '0';
  if (p.sci) return m + 'e-06';
  return String(parseFloat((m * p.step).toPrecision(10)));
}

const wrap = document.getElementById('wrap');

panels.forEach(p => {
  const AX = Math.min(70, p.L);
  const top = ROW_TOP[p.row];
  const w = p.R - p.L + AX + PAD_R;
  const h = PLOT_H + TITLE_H + XAXIS_H;
  const cv = document.createElement('canvas');
  cv.width = w; cv.height = h;
  cv.style.left = (p.L - AX) + 'px';
  cv.style.top = (top - TITLE_H) + 'px';
  cv.style.width = w + 'px';
  cv.style.height = h + 'px';
  wrap.appendChild(cv);

  const datasets = [{
    data: toXY(p.data), borderColor: p.color, borderWidth: 1.1,
    pointRadius: 0, fill: false, cubicInterpolationMode: 'monotone'
  }];
  if (p.hi) {
    datasets.push({ data: toXY(p.hi), borderColor: p.color, borderWidth: 0, pointRadius: 0, backgroundColor: p.color, fill: '+1' });
    datasets.push({ data: toXY(p.lo), borderColor: p.color, borderWidth: 0, pointRadius: 0, fill: false });
  }
  const yt = yTickList(p);

  new Chart(cv, {
    type: 'line',
    data: { datasets },
    plugins: [panelTitle],
    options: {
      responsive: false,
      animation: false,
      devicePixelRatio: 1,
      layout: { padding: { top: TITLE_H, right: PAD_R, left: 0, bottom: 0 } },
      plugins: {
        legend: { display: false },
        tooltip: { enabled: false },
        panelTitle: { text: p.title }
      },
      scales: {
        x: {
          type: 'linear', min: p.xmin, max: 0.75,
          afterBuildTicks: s => { s.ticks = xTickVals.filter(v => v >= p.xmin && v <= 0.75).map(v => ({ value: v })); },
          afterFit: s => { s.height = XAXIS_H; },
          ticks: {
            autoSkip: false, maxRotation: 0, padding: 4, color: TEXT,
            font: { family: FONT, size: 12 },
            callback: v => (Math.round(v) % 2 === 0 ? String(v) : '')
          },
          grid: { drawTicks: false, lineWidth: 1, color: c => (c.tick && Math.round(c.tick.value) % 2 === 0) ? '#2c2c2c' : '#1c1c1c' },
          border: { display: true, color: '#a8a8a8', width: 1.5 }
        },
        y: {
          type: 'linear', min: p.ymin, max: p.ymax,
          afterBuildTicks: s => { s.ticks = yt.map(v => ({ value: v })); },
          afterFit: s => { s.width = AX; },
          ticks: {
            autoSkip: false, padding: 5, color: TEXT,
            font: { family: FONT, size: 12 },
            callback: v => (isMajor(p, v) ? yLabel(p, v) : '')
          },
          grid: { drawTicks: false, lineWidth: 1, color: c => (c.tick && isMajor(p, c.tick.value)) ? '#2a2a2a' : '#161616' },
          border: { display: true, color: '#a8a8a8', width: 1.5 }
        }
      }
    }
  });
});
</script>
</body>
</html>
